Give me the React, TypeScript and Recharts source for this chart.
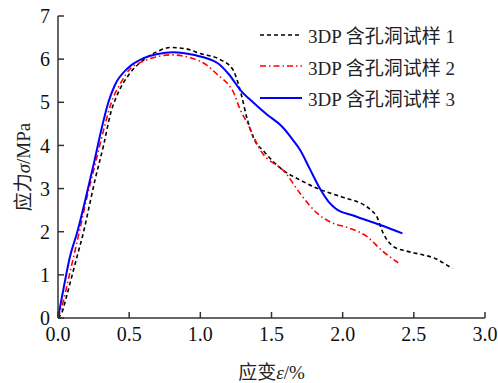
import { LineChart, Line, XAxis, YAxis, Label } from "recharts";

// sample 1 (black dashed)
const strain1 = [0, 0.03, 0.06, 0.1, 0.14, 0.18, 0.22, 0.26, 0.32, 0.37, 0.42, 0.5, 0.6, 0.7, 0.79, 0.9, 1.0, 1.14, 1.23, 1.26, 1.29, 1.33, 1.37, 1.45, 1.58, 1.7, 1.84, 2.0, 2.15, 2.2, 2.24, 2.28, 2.36, 2.45, 2.54, 2.65, 2.72, 2.77];
const stress1 = [0, 0.15, 0.5, 1.0, 1.5, 2.0, 2.6, 3.2, 4.0, 4.75, 5.2, 5.65, 5.98, 6.18, 6.27, 6.24, 6.13, 5.99, 5.75, 5.5, 5.15, 4.6, 4.2, 3.85, 3.43, 3.2, 2.98, 2.8, 2.62, 2.5, 2.35, 2.0, 1.65, 1.55, 1.48, 1.38, 1.25, 1.15];

// sample 2 (red dash-dot)
const strain2 = [0, 0.03, 0.08, 0.15, 0.2, 0.26, 0.32, 0.37, 0.45, 0.5, 0.6, 0.7, 0.79, 0.93, 1.05, 1.12, 1.2, 1.23, 1.28, 1.33, 1.42, 1.6, 1.7, 1.82, 1.91, 2.05, 2.17, 2.28, 2.39];
const stress2 = [0, 0.3, 1.0, 2.0, 2.75, 3.55, 4.35, 4.95, 5.5, 5.75, 5.95, 6.06, 6.1, 6.03, 5.85, 5.64, 5.4, 5.25, 4.83, 4.52, 3.9, 3.36, 2.89, 2.43, 2.23, 2.08, 1.89, 1.55, 1.28];

// sample 3 (blue solid)
const strain3 = [0, 0.04, 0.084, 0.136, 0.2, 0.26, 0.3, 0.354, 0.4, 0.49, 0.6, 0.7, 0.81, 0.95, 1.12, 1.2, 1.28, 1.37, 1.47, 1.57, 1.65, 1.7, 1.77, 1.84, 1.9, 1.95, 2.08, 2.26, 2.42];
const stress3 = [0, 0.7, 1.42, 2.0, 2.85, 3.7, 4.3, 5.0, 5.4, 5.79, 6.02, 6.12, 6.16, 6.1, 5.91, 5.65, 5.29, 5.0, 4.71, 4.45, 4.13, 3.9, 3.45, 3.0, 2.7, 2.54, 2.37, 2.16, 1.96];

const xTicks = [0, 0.5, 1.0, 1.5, 2.0, 2.5, 3.0];
const yTicks = [0, 1, 2, 3, 4, 5, 6, 7];

const seriesNames = ["3DP 含孔洞试样 1", "3DP 含孔洞试样 2", "3DP 含孔洞试样 3"];

const zip = (xs: number[], ys: number[]) => xs.map((x, i) => ({ x, y: ys[i] }));

const series = [
  { name: seriesNames[0], data: zip(strain1, stress1), color: "#000000", dash: "4 3", width: 1.6 },
  { name: seriesNames[1], data: zip(strain2, stress2), color: "#ff0000", dash: "6 3 1.5 3", width: 1.6 },
  { name: seriesNames[2], data: zip(strain3, stress3), color: "#0000ff", dash: undefined, width: 2 },
];

const FONT = '"Liberation Serif", "Times New Roman", "Noto Sans CJK SC", serif';

// axis titles with the italic greek symbol
const XTitle = (props: any) => {
  const { x, y, width, height } = props.viewBox;
  return (
    <text x={x + width / 2} y={y + height + 16} textAnchor="middle" fill="#222" fontSize={19} fontFamily={FONT}>
      应变<tspan fontStyle="italic">ε</tspan>/%
    </text>
  );
};

const YTitle = (props: any) => {
  const { y, height } = props.viewBox;
  const cx = 23;
  const cy = y + height / 2;
  return (
    <text
      x={cx}
      y={cy}
      transform={`rotate(-90 ${cx} ${cy})`}
      textAnchor="middle"
      dominantBaseline="central"
      fill="#222"
      fontSize={19}
      fontFamily={FONT}
    >
      应力<tspan fontStyle="italic">σ</tspan>/MPa
    </text>
  );
};

function ChartLegend() {
  return (
    <div style={{ position: "absolute", left: 260, top: 19, fontFamily: FONT, fontSize: 19, color: "#222" }}>
      {series.map((s, i) => (
        <div key={i} style={{ display: "flex", alignItems: "center", height: 31.5 }}>
          <svg width={42} height={10} style={{ marginRight: 6 }}>
            <line x1={0} y1={5} x2={42} y2={5} stroke={s.color} strokeWidth={s.width} strokeDasharray={s.dash} />
          </svg>
          <span>{s.name}</span>
        </div>
      ))}
    </div>
  );
}

export default function App() {
  return (
    <div style={{ position: "absolute", left: 0, top: 0, width: 498, height: 383, background: "#fff" }}>
      <LineChart width={498} height={383} margin={{ top: 16, right: 13, left: 28, bottom: 20 }}>
        <XAxis
          type="number"
          dataKey="x"
          domain={[0, 3]}
          ticks={xTicks}
          tickFormatter={(v: number) => v.toFixed(1)}
          allowDataOverflow
          height={45}
          stroke="#333"
          strokeWidth={1.5}
          tickSize={-6}
          tickMargin={15}
          tick={{ fill: "#111", fontSize: 20, fontFamily: FONT }}
        >
          <Label content={XTitle} />
        </XAxis>
        <YAxis
          type="number"
          domain={[0, 7]}
          ticks={yTicks}
          width={30}
          stroke="#333"
          strokeWidth={1.5}
          tickSize={-6}
          tickMargin={14}
          tick={{ fill: "#111", fontSize: 20, fontFamily: FONT }}
        >
          <Label content={YTitle} />
        </YAxis>
        {series.map((s) => (
          <Line
            key={s.name}
            name={s.name}
            data={s.data}
            dataKey="y"
            type="monotone"
            stroke={s.color}
            strokeWidth={s.width}
            strokeDasharray={s.dash}
            dot={false}
            isAnimationActive={false}
          />
        ))}
      </LineChart>
      <ChartLegend />
    </div>
  );
}
